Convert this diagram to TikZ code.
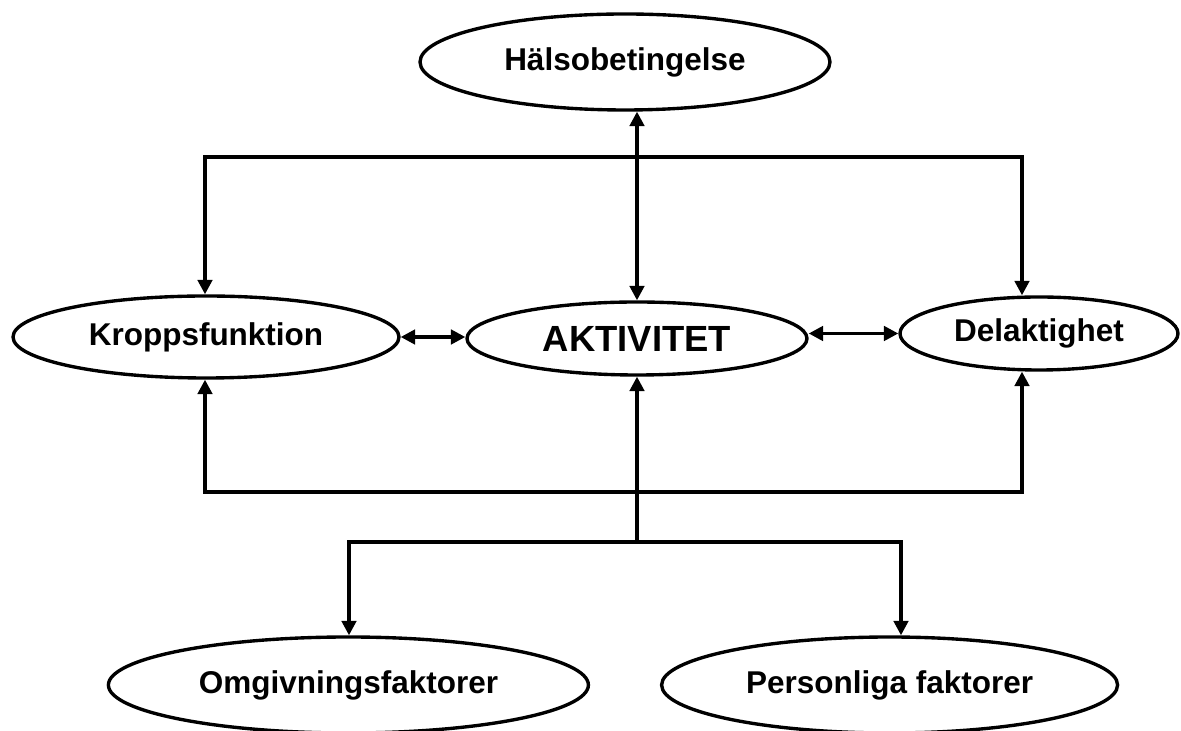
\documentclass[tikz,border=0pt]{standalone}
\usepackage{fontspec}
\setmainfont{Liberation Sans}
\usetikzlibrary{arrows.meta,shapes.geometric}

\begin{document}
\begin{tikzpicture}[
  box/.style={ellipse, draw, line width=2.4pt, inner sep=0pt, font=\fontsize{22.4}{26}\selectfont\bfseries},
  link/.style={line width=2.4pt},
  >={Triangle[width=0.36cm,length=0.36cm]}]
  \useasboundingbox (0,0) rectangle (29.525,18.275);
  % Ellipses
  \node[box, minimum width=10.25cm, minimum height=2.4cm] (halso) at (15.625,16.725) {Hälsobetingelse};
  \node[box, minimum width=9.65cm, minimum height=2.05cm] (kropp) at (5.15,9.85) {Kroppsfunktion};
  \node[box, minimum width=8.5cm, minimum height=1.825cm, font=\fontsize{25.9}{30}\selectfont\bfseries] (akt) at (15.925,9.8125) {AKTIVITET};
  \node[box, minimum width=6.95cm, minimum height=1.825cm] (del) at (25.975,9.9375) {Delaktighet};
  \node[box, minimum width=12.0cm, minimum height=2.4cm] (omg) at (8.71,1.15) {Omgivningsfaktorer};
  \node[box, minimum width=11.4cm, minimum height=2.4cm] (pers) at (22.24,1.15) {Personliga faktorer};
  % Lines
  \coordinate (topL) at (5.125,14.35); \coordinate (topR) at (25.55,14.35);
  \coordinate (botL) at (5.125,5.975); \coordinate (botR) at (25.55,5.975);
  \coordinate (lowL) at (8.725,4.725); \coordinate (lowR) at (22.525,4.725);
  \coordinate (split) at (15.925,4.725);
  \draw[link,<->] (topL |- kropp.north) -- (topL) -- (topR) -- (topR |- del.north);
  \draw[link,<->] (akt.north) -- (akt.north |- halso.south);
  \draw[link,<->] (kropp.east) -- (kropp.east -| akt.west);
  \draw[link,<->] (akt.east |- del.west) -- (del.west);
  \draw[link,<->] (botL |- kropp.south) -- (botL) -- (botR) -- (botR |- del.south);
  \draw[link,->] (split) -- (akt.south);
  \draw[link,<->] (lowL |- omg.north) -- (lowL) -- (lowR) -- (lowR |- pers.north);
\end{tikzpicture}
\end{document}
